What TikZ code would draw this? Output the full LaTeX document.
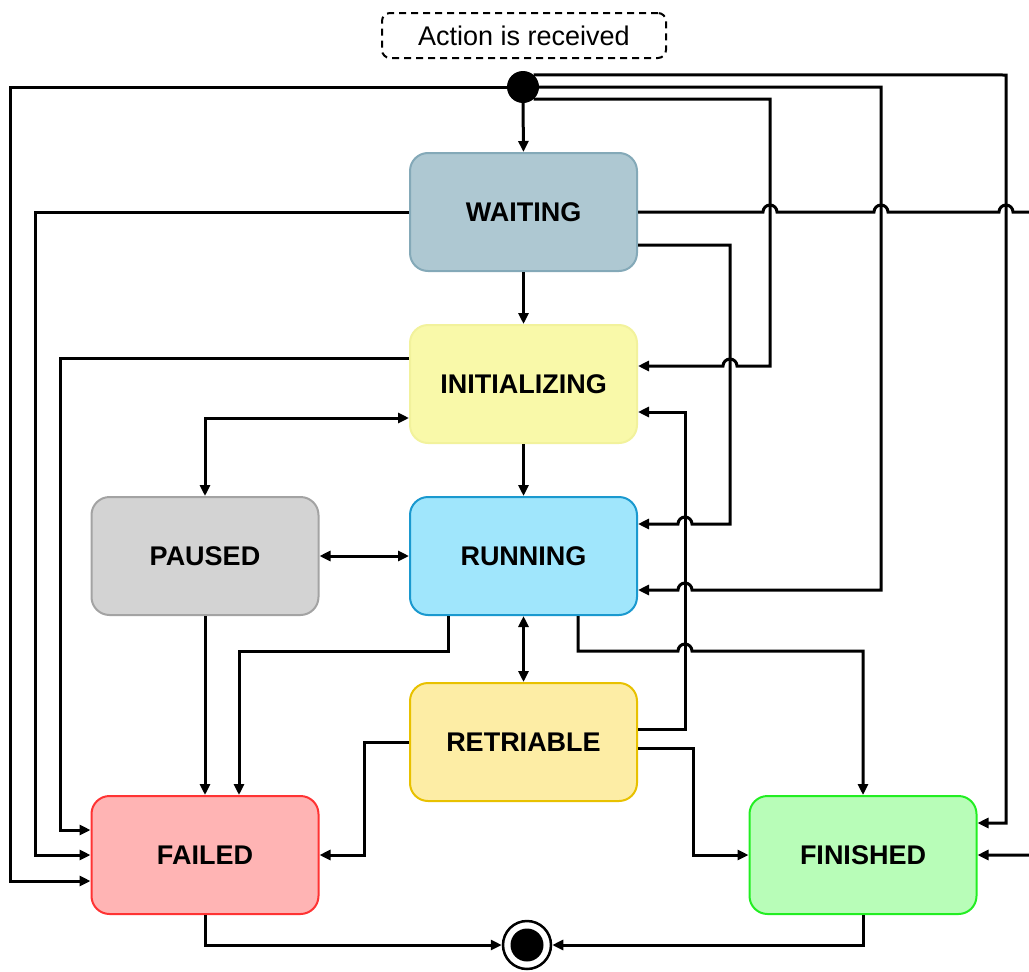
\documentclass[tikz,border=0pt]{standalone}
\usepackage{fontspec}
\setmainfont{Liberation Sans}
\usetikzlibrary{arrows.meta}
\definecolor{waitfill}{HTML}{AEC8D2}\definecolor{waitline}{HTML}{84A9B8}
\definecolor{initfill}{HTML}{F9F9A9}\definecolor{initline}{HTML}{F2F29C}
\definecolor{pausfill}{HTML}{D3D3D3}\definecolor{pausline}{HTML}{A3A3A3}
\definecolor{runfill}{HTML}{A0E6FC}\definecolor{runline}{HTML}{1A99CF}
\definecolor{retrfill}{HTML}{FDEDA5}\definecolor{retrline}{HTML}{E8C100}
\definecolor{failfill}{HTML}{FFB4B4}\definecolor{failline}{HTML}{FF3333}
\definecolor{finfill}{HTML}{B8FDB8}\definecolor{finline}{HTML}{22EE22}
\begin{document}
\begin{tikzpicture}[x=1pt,y=-1pt,
  state/.style={draw, line width=2pt, rounded corners=18pt, minimum width=227pt,
    minimum height=118pt, inner sep=0pt, font=\bfseries\fontsize{27}{32}\selectfont},
  wire/.style={line width=3pt},
  arr/.style={wire, -{Triangle[length=11pt,width=10pt]}},
  arrs/.style={wire, {Triangle[length=11pt,width=10pt]}-{Triangle[length=11pt,width=10pt]}},
]
\useasboundingbox (0,0) rectangle (1029,972);
\clip (0,0) rectangle (1029,972);

% event label and pseudo-states
\node[draw, dashed, dash pattern=on 7pt off 5pt, line width=2pt, rounded corners=8pt,
  minimum width=284pt, minimum height=45pt, font=\fontsize{27}{32}\selectfont]
  (action) at (524,35.5) {Action is received};
\node[circle, fill=black, minimum size=32pt, inner sep=0pt] (start) at (523,87) {};
\node[circle, draw, fill=white, line width=2.5pt, minimum size=48pt, inner sep=0pt] (end) at (527,945) {};
\fill (end.center) circle (16.5);

% states
\node[state, fill=waitfill, draw=waitline] (waiting) at (523.5,212) {WAITING};
\node[state, fill=initfill, draw=initline] (init) at (523.5,384) {INITIALIZING};
\node[state, fill=pausfill, draw=pausline] (paused) at (205,556) {PAUSED};
\node[state, fill=runfill, draw=runline] (running) at (523.5,556) {RUNNING};
\node[state, fill=retrfill, draw=retrline] (retri) at (523.5,742) {RETRIABLE};
\node[state, fill=failfill, draw=failline] (failed) at (205,855) {FAILED};
\node[state, fill=finfill, draw=finline] (finished) at (863,855) {FINISHED};

% transitions from the initial state
\draw[arr] (start.south) -- (waiting.north);
\draw[arr] (start.west) -- (10,87) |- ([yshift=-26pt]failed.west);
\draw[arr] (start.49) -- (1006,75) |- ([yshift=32pt]finished.east);
\draw[arr] (start.east) -- (881,87) -- (881,590) -- (692,590) arc(0:-180:7)
  -- ([yshift=-34pt]running.east);
\draw[arr] (start.-49) -- (770,99) -- (770,366) -- (737,366) arc(0:-180:7)
  -- ([yshift=18pt]init.east);

% from WAITING
\draw[arr] (waiting.east) -- (763,212) arc(180:360:7) -- (874,212) arc(180:360:7)
  -- (999,212) arc(180:360:7) -- (1045,212) |- (finished.east);
\draw[arr] (waiting.south) -- (init.north);
\draw[arr] ([yshift=-33pt]waiting.east) -- (730,245) -- (730,524) -- (692,524) arc(0:-180:7)
  -- ([yshift=32pt]running.east);
\draw[arr] (waiting.west) -- (35,212) |- (failed.west);

% from INITIALIZING
\draw[arr] ([yshift=26pt]init.west) -- (60,358) |- ([yshift=25pt]failed.west);
\draw[arrs] (paused.north) |- ([yshift=-34pt]init.west);
\draw[arr] (init.south) -- (running.north);

% from PAUSED
\draw[arrs] (paused.east) -- (running.west);
\draw[arr] (paused.south) -- (failed.north);

% from RUNNING
\draw[arr] ([xshift=-75.5pt]running.south) -- (448,651) -| ([xshift=34pt]failed.north);
\draw[arrs] (running.south) -- (retri.north);
\draw[arr] ([xshift=54.5pt]running.south) -- (578,651) -- (678,651) arc(180:360:7)
  -- (692,651) -| (finished.north);

% from RETRIABLE
\draw[arr] ([yshift=13pt]retri.east) -- (685,729) -- (685,412) -- ([yshift=-28pt]init.east);
\draw[arr] ([yshift=-6pt]retri.east) -- (693,748) |- (finished.west);
\draw[arr] (retri.west) -- (364,742) |- (failed.east);

% to the final state
\draw[arr] (failed.south) |- (end.west);
\draw[arr] (finished.south) |- (end.east);
\end{tikzpicture}
\end{document}
